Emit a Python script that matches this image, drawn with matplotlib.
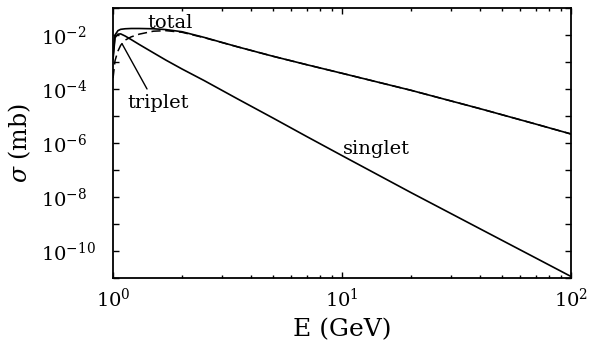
import numpy as np
import matplotlib
matplotlib.use("Agg")
import matplotlib.pyplot as plt

plt.rcParams['font.family'] = ['DejaVu Serif']
plt.rcParams['mathtext.fontset'] = 'dejavuserif'

# photon energy (GeV) and log10 of cross sections (mb)
energy = [1.0, 1.02, 1.05, 1.08, 1.13, 1.2, 1.3, 1.5, 1.7, 2.0, 2.5, 3.5,
          5.0, 7.0, 10.0, 20.0, 40.0, 70.0, 100.0]
log_singlet = [-2.9, -2.1, -1.97, -1.96, -2.04, -2.17, -2.35, -2.66, -2.93,
               -3.26, -3.69, -4.37, -5.08, -5.76, -6.47, -7.84, -9.18, -10.26, -10.95]
log_triplet = [-3.6, -2.95, -2.6, -2.38, -2.19, -2.07, -1.97, -1.86, -1.84,
               -1.9, -2.1, -2.44, -2.79, -3.1, -3.42, -4.05, -4.73, -5.3, -5.67]
log_total = [-2.8, -2.0, -1.84, -1.79, -1.77, -1.76, -1.76, -1.77, -1.8,
             -1.88, -2.09, -2.44, -2.79, -3.1, -3.42, -4.05, -4.73, -5.3, -5.67]

y_decades = list(range(-11, 0))

fig = plt.figure(figsize=(5.95, 3.47), dpi=100)
ax = fig.add_axes([0.19, 0.199, 0.77, 0.778])

ax.plot(energy, 10.0 ** np.array(log_total), color='black', lw=1.2)
ax.plot(energy, 10.0 ** np.array(log_singlet), color='black', lw=1.2)
ax.plot(energy, 10.0 ** np.array(log_triplet), color='black', lw=1.1,
        dashes=(6, 3))

ax.set_xscale('log')
ax.set_yscale('log')
ax.set_xlim(1, 100)
ax.set_ylim(1e-11, 1e-1)

ax.set_yticks([10.0 ** d for d in y_decades])
ax.set_yticklabels([r'$10^{%d}$' % d if d % 2 == 0 else '' for d in y_decades])
ax.yaxis.set_minor_locator(matplotlib.ticker.NullLocator())
ax.set_xticks([1, 10, 100])
ax.set_xticklabels([r'$10^{0}$', r'$10^{1}$', r'$10^{2}$'])

ax.tick_params(which='both', direction='in', top=True, right=True,
               labelsize=14, width=1.0)
ax.tick_params(which='major', length=4)
ax.tick_params(which='minor', length=2.5)
ax.tick_params(axis='x', which='major', pad=7)
ax.tick_params(axis='y', which='major', pad=52)
for lab in ax.get_yticklabels():
    lab.set_horizontalalignment('left')
for s in ax.spines.values():
    s.set_linewidth(1.3)

ax.set_xlabel('E (GeV)', fontsize=18)
ax.xaxis.set_label_coords(0.5, -0.15)
ax.set_ylabel(r'$\sigma$ (mb)', fontsize=17)
ax.yaxis.set_label_coords(-0.175, 0.5)

ax.text(1.41, 1.8e-2, 'total', fontsize=14, ha='left', va='baseline')
ax.text(10.1, 4.0e-7, 'singlet', fontsize=14, ha='left', va='baseline')
ax.text(1.15, 2.0e-5, 'triplet', fontsize=14, ha='left', va='baseline')
ax.annotate('', xy=(1.095, 4.7e-3), xytext=(1.407, 1.0e-4),
            arrowprops=dict(arrowstyle='-', color='black', lw=1.0,
                            shrinkA=0, shrinkB=0))

fig.savefig('out.png', dpi=100)
